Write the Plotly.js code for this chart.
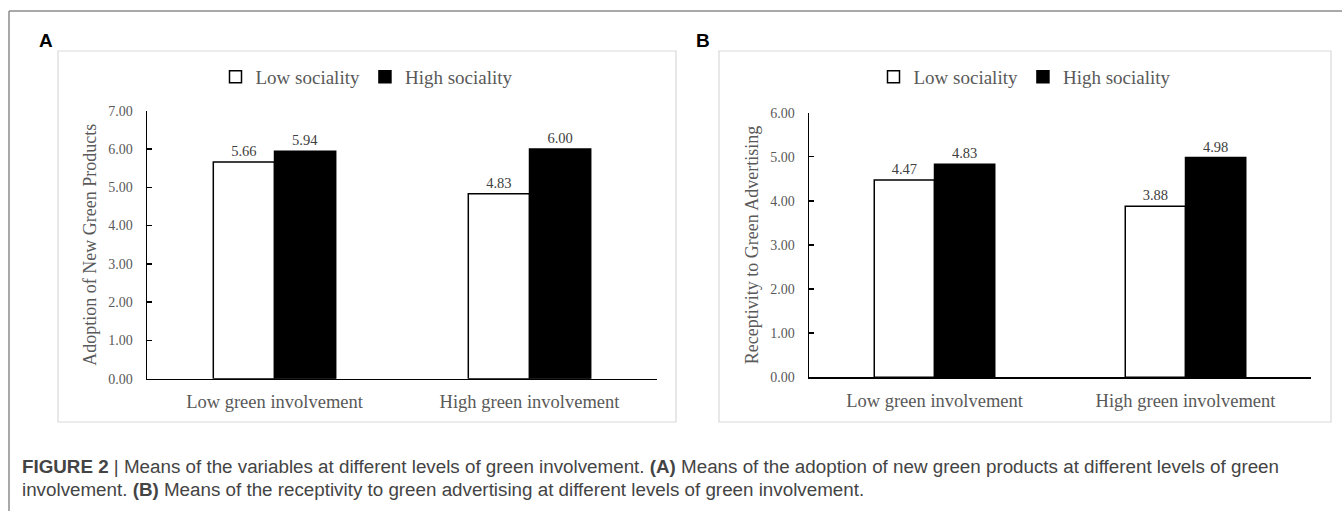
<!DOCTYPE html>
<html>
<head>
<meta charset="utf-8">
<script src="https://cdn.plot.ly/plotly-3.0.1.min.js"></script>
<style>
  html, body { margin: 0; padding: 0; background: #ffffff; }
  #chart { width: 1342px; height: 511px; }
</style>
</head>
<body>
<div id="chart"></div>
<script>
// ---- Data ----
const categories = ['Low green involvement', 'High green involvement'];
const seriesNames = ['Low sociality', 'High sociality'];
const adoptionLow = [5.66, 4.83];
const adoptionHigh = [5.94, 6.00];
const receptivityLow = [4.47, 3.88];
const receptivityHigh = [4.83, 4.98];
const yTitleA = 'Adoption of New Green Products';
const yTitleB = 'Receptivity to Green Advertising';
const captionLine1 = '<b>FIGURE 2</b> | Means of the variables at different levels of green involvement. <b>(A)</b> Means of the adoption of new green products at different levels of green';
const captionLine2 = 'involvement. <b>(B)</b> Means of the receptivity to green advertising at different levels of green involvement.';

// ---- Helpers ----
const W = 1342, H = 511;
const px = x => x / W;
const py = y => 1 - y / H;
const serif = 'Liberation Serif, Times New Roman, serif';
const sans = 'Liberation Sans, Arial, sans-serif';

function barTrace(name, vals, fill, xa, ya, legend, showlegend) {
  return {
    type: 'bar', name: name, x: categories, y: vals,
    xaxis: xa, yaxis: ya, legend: legend, showlegend: showlegend,
    marker: { color: fill, line: { color: '#000000', width: 1.5 } },
    text: vals.map(v => v.toFixed(2)), textposition: 'outside',
    textfont: { family: serif, size: 14.5, color: '#404040' },
    cliponaxis: false, hoverinfo: 'skip'
  };
}

const data = [
  barTrace(seriesNames[0], adoptionLow, '#ffffff', 'x', 'y', 'legend', true),
  barTrace(seriesNames[1], adoptionHigh, '#000000', 'x', 'y', 'legend', true),
  barTrace(seriesNames[0], receptivityLow, '#ffffff', 'x2', 'y2', 'legend2', true),
  barTrace(seriesNames[1], receptivityHigh, '#000000', 'x2', 'y2', 'legend2', true)
];

function xAxis(domain, anchor) {
  return {
    domain: domain, anchor: anchor, type: 'category',
    showline: true, linecolor: '#000000', linewidth: 1.5,
    ticks: '', showgrid: false, zeroline: false,
    tickfont: { family: serif, size: 18.5, color: '#595959' },
    ticklabelstandoff: 6, fixedrange: true
  };
}
function yAxis(domain, anchor, maxV, title) {
  return {
    domain: domain, anchor: anchor, range: [0, maxV], dtick: 1, tickformat: '.2f',
    showline: true, linecolor: '#000000', linewidth: 1.5,
    ticks: 'inside', ticklen: 5, tickwidth: 1.5, tickcolor: '#000000',
    showgrid: false, zeroline: false,
    tickfont: { family: serif, size: 14, color: '#595959' },
    ticklabelstandoff: 10,
    title: { text: title, font: { family: serif, size: 18, color: '#595959' }, standoff: 7 },
    fixedrange: true
  };
}

const boxLine = { color: '#d9d9d9', width: 1.2 };
const legendFont = { family: serif, size: 19, color: '#595959' };
const layout = {
  width: W, height: H,
  margin: { l: 0, r: 0, t: 0, b: 0 },
  paper_bgcolor: '#ffffff', plot_bgcolor: 'rgba(0,0,0,0)',
  bargap: 0.52, bargroupgap: 0, barmode: 'group',
  xaxis: xAxis([px(147), px(657)], 'y'),
  yaxis: yAxis([py(378.7), py(110.7)], 'x', 7, yTitleA),
  xaxis2: xAxis([px(809), px(1311)], 'y2'),
  yaxis2: yAxis([py(377.3), py(112.6)], 'x2', 6, yTitleB),
  legend: {
    orientation: 'h', x: px(367), xanchor: 'center', y: py(77), yanchor: 'middle',
    font: legendFont, bgcolor: 'rgba(0,0,0,0)', itemwidth: 30, tracegroupgap: 0
  },
  legend2: {
    orientation: 'h', x: px(1025), xanchor: 'center', y: py(77), yanchor: 'middle',
    font: legendFont, bgcolor: 'rgba(0,0,0,0)', itemwidth: 30, tracegroupgap: 0
  },
  shapes: [
    // outer figure frame (top and left)
    { type: 'line', xref: 'paper', yref: 'paper', x0: px(9), x1: 1, y0: py(11), y1: py(11), line: { color: '#8c8c8c', width: 1.5 } },
    { type: 'line', xref: 'paper', yref: 'paper', x0: px(9), x1: px(9), y0: py(11), y1: 0, line: { color: '#8c8c8c', width: 1.5 } },
    // panel boxes
    { type: 'rect', xref: 'paper', yref: 'paper', x0: px(58), x1: px(676), y0: py(422), y1: py(51), line: boxLine, layer: 'below' },
    { type: 'rect', xref: 'paper', yref: 'paper', x0: px(719), x1: px(1331), y0: py(422), y1: py(51), line: boxLine, layer: 'below' }
  ],
  annotations: [
    { text: '<b>A</b>', xref: 'paper', yref: 'paper', x: px(37), y: py(40), xanchor: 'left', yanchor: 'middle', showarrow: false,
      font: { family: sans, size: 19, color: '#000000' } },
    { text: '<b>B</b>', xref: 'paper', yref: 'paper', x: px(694), y: py(40), xanchor: 'left', yanchor: 'middle', showarrow: false,
      font: { family: sans, size: 19, color: '#000000' } },
    { text: captionLine1, xref: 'paper', yref: 'paper', x: px(20), y: py(466), xanchor: 'left', yanchor: 'middle', showarrow: false,
      font: { family: sans, size: 18.8, color: '#444444' } },
    { text: captionLine2, xref: 'paper', yref: 'paper', x: px(20), y: py(489), xanchor: 'left', yanchor: 'middle', showarrow: false,
      font: { family: sans, size: 18.8, color: '#444444' } }
  ]
};

Plotly.newPlot('chart', data, layout, { displayModeBar: false, staticPlot: true });
</script>
</body>
</html>
